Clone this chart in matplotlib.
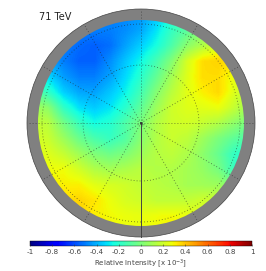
import matplotlib
matplotlib.use("Agg")
import matplotlib.pyplot as plt
from matplotlib.patches import Circle
import numpy as np

# sky map, north-up, rows top to bottom
grid_x = [-1.05, -0.9, -0.75, -0.6, -0.45, -0.3, -0.15, 0, 0.15, 0.3, 0.45, 0.6, 0.75, 0.9, 1.05]
grid_y = [1.05, 0.9, 0.75, 0.6, 0.45, 0.3, 0.15, 0, -0.15, -0.3, -0.45, -0.6, -0.75, -0.9, -1.05]
intensity = [
    [-.45, -.48, -.50, -.50, -.50, -.50, -.48, -.45, -.36, -.24, -.12, -.02, .05, .12, .15],
    [-.45, -.48, -.50, -.50, -.50, -.50, -.47, -.42, -.30, -.17, -.08, .03, .12, .20, .22],
    [-.40, -.45, -.50, -.54, -.56, -.53, -.43, -.34, -.24, -.11, .04, .13, .22, .28, .30],
    [-.34, -.42, -.50, -.56, -.56, -.47, -.36, -.26, -.13, .02, .22, .35, .37, .32, .28],
    [-.25, -.32, -.44, -.50, -.50, -.43, -.32, -.20, -.06, .10, .24, .35, .35, .27, .24],
    [-.06, -.18, -.34, -.42, -.43, -.36, -.27, -.14, .02, .15, .25, .31, .36, .24, .16],
    [.10, .04, -.18, -.31, -.35, -.30, -.20, -.07, .08, .20, .24, .25, .27, .18, .08],
    [.18, .15, -.02, -.16, -.25, -.21, -.11, .00, .13, .20, .21, .18, .13, .05, -.02],
    [.22, .19, .08, -.04, -.12, -.17, -.10, .03, .13, .19, .16, .08, .00, -.07, -.12],
    [.26, .24, .18, .09, .01, -.03, .01, .08, .14, .16, .12, .04, -.05, -.17, -.22],
    [.28, .28, .28, .21, .13, .10, .12, .15, .13, .13, .10, .06, -.01, -.16, -.24],
    [.30, .30, .31, .31, .25, .22, .20, .17, .15, .13, .10, .09, .08, .00, -.06],
    [.32, .32, .34, .37, .33, .27, .22, .20, .17, .17, .17, .20, .19, .16, .12],
    [.32, .34, .35, .36, .31, .29, .27, .26, .28, .29, .27, .23, .20, .18, .16],
    [.32, .34, .35, .34, .31, .29, .27, .27, .29, .30, .28, .24, .20, .18, .16],
]
ring_radii = [0.563, 0.961]
spoke_angles = [30, 60, 90, 120, 150, 180, 210, 240, 270, 300, 330, 360]
bar_ticks = [-1, -0.8, -0.6, -0.4, -0.2, 0, 0.2, 0.4, 0.6, 0.8, 1]
bar_labels = ["-1", "-0.8", "-0.6", "-0.4", "-0.2", "0", "0.2", "0.4", "0.6", "0.8", "1"]

W, H = 266, 271
CX, CY, SCALE = 141.0, 123.0, 103.0
OUTER = 114.0 / SCALE

fig = plt.figure(figsize=(W / 100, H / 100), dpi=100)
ax = fig.add_axes([0, 0, 1, 1])
ax.axis("off")

# grey rim, coloured sky clipped to the inner circle
ax.add_patch(Circle((0, 0), OUTER, fc="#808080", ec="#444444", lw=0.5, zorder=1))
step = 0.15
img = ax.imshow(intensity, cmap="jet", vmin=-1, vmax=1, interpolation="bilinear", aspect="auto",
                extent=[grid_x[0] - step / 2, grid_x[-1] + step / 2, grid_y[-1] - step / 2, grid_y[0] + step / 2],
                zorder=2)
ax.set_xlim(-CX / SCALE, (W - CX) / SCALE)
ax.set_ylim((CY - H) / SCALE, CY / SCALE)
img.set_clip_path(Circle((0, 0), 1.0, transform=ax.transData))

# graticule
for r in ring_radii:
    ax.add_patch(Circle((0, 0), r, fc="none", ec="#222222", lw=0.6, ls=(0, (1, 2.6)), alpha=0.7, zorder=3))
for a in spoke_angles:
    t = np.deg2rad(a)
    if a == 180:
        ax.plot([0, 0], [0, -OUTER], color="#444444", lw=0.7, zorder=3)
    else:
        ax.plot([0, OUTER * np.sin(t)], [0, OUTER * np.cos(t)], color="#222222", lw=0.6,
                ls=(0, (1, 2.6)), alpha=0.7, zorder=3)
ax.plot([0], [0], marker="s", ms=2, mfc="none", mec="#333333", mew=0.4, zorder=4)

ax.text(39 / W, 1 - 17 / H, "71 TeV", transform=ax.transAxes, fontsize=7, color="#222222", va="center", ha="left")

# colour bar
cax = fig.add_axes([30 / W, 1 - 246 / H, 222 / W, 5 / H])
cb = fig.colorbar(img, cax=cax, orientation="horizontal")
cb.set_ticks(bar_ticks)
cb.set_ticklabels(bar_labels)
cb.ax.tick_params(labelsize=5.2, length=1.5, width=0.4, direction="in", pad=2.5, colors="#444444")
cb.outline.set_linewidth(0.3)
cb.set_label(r"Relative Intensity [x 10$^{-3}$]", fontsize=5, labelpad=1.5, color="#444444")

fig.savefig("out.png", dpi=100)
